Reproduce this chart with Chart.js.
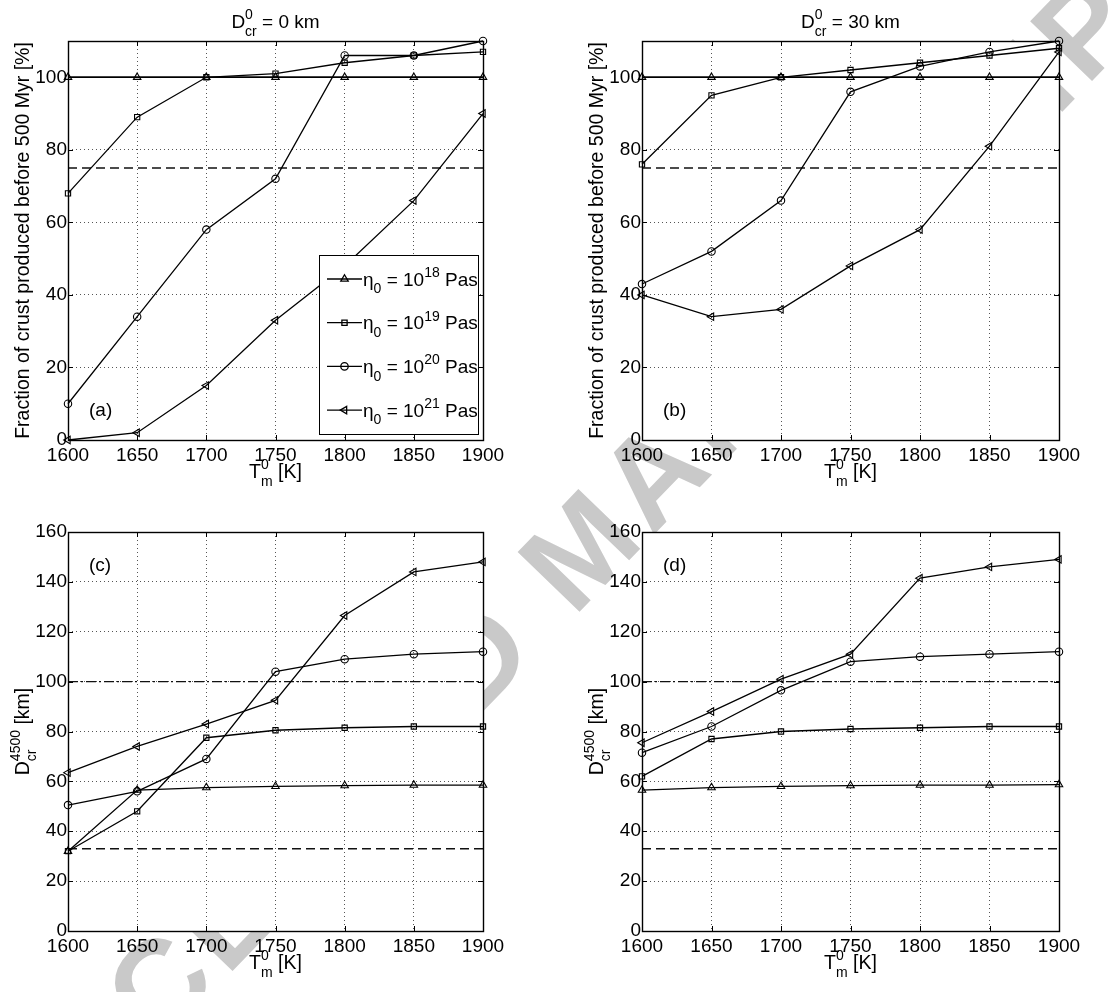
<!DOCTYPE html>
<html>
<head>
<meta charset="utf-8">
<script src="https://cdn.jsdelivr.net/npm/chart.js@4.4.0/dist/chart.umd.min.js"></script>
<style>
  body { margin: 0; background: #fff; }
  #wrap { position: relative; width: 1117px; height: 992px; overflow: hidden; }
  #wrap canvas { position: absolute; }
</style>
</head>
<body>
<div id="wrap">
  <canvas id="mark" width="1117" height="992" style="left:0;top:0"></canvas>
  <canvas id="pa" width="558" height="496" style="left:0;top:0"></canvas>
  <canvas id="pb" width="559" height="496" style="left:558px;top:0"></canvas>
  <canvas id="pc" width="558" height="496" style="left:0;top:496px"></canvas>
  <canvas id="pd" width="559" height="496" style="left:558px;top:496px"></canvas>
</div>
<script>
const temps = [1600, 1650, 1700, 1750, 1800, 1850, 1900]
const xTicks = [1600, 1650, 1700, 1750, 1800, 1850, 1900]
const yTicksFrac = [0, 20, 40, 60, 80, 100]
const yTicksDepth = [0, 20, 40, 60, 80, 100, 120, 140, 160]
const viscosityExp = ['18', '19', '20', '21']

// fraction of crust produced before 500 Myr [%], D0 = 0 km
const fracA18 = [100, 100, 100, 100, 100, 100, 100]
const fracA19 = [68, 89, 100, 101, 104, 106, 107]
const fracA20 = [10, 34, 58, 72, 106, 106, 110]
const fracA21 = [0, 2, 15, 33, 48, 66, 90]

// same, D0 = 30 km
const fracB18 = [100, 100, 100, 100, 100, 100, 100]
const fracB19 = [76, 95, 100, 102, 104, 106, 108]
const fracB20 = [43, 52, 66, 96, 103, 107, 110]
const fracB21 = [40, 34, 36, 48, 58, 81, 107]

// crust thickness at 4500 Myr [km], D0 = 0 km
const depthC18 = [32, 56.5, 57.5, 58, 58.3, 58.5, 58.5]
const depthC19 = [32, 48, 77.5, 80.5, 81.5, 82, 82]
const depthC20 = [50.5, 56, 69, 104, 109, 111, 112]
const depthC21 = [63.5, 74, 83, 92.5, 126.5, 144, 148]

// same, D0 = 30 km
const depthD18 = [56.5, 57.5, 58, 58.3, 58.5, 58.5, 58.7]
const depthD19 = [62, 77, 80, 81, 81.5, 82, 82]
const depthD20 = [71.5, 82, 96.5, 108, 110, 111, 112]
const depthD21 = [75.5, 88, 101, 111, 141.5, 146, 149]

// horizontal reference levels
const fracRefs = [75, 100]
const depthRefs = [33, 100]

const FONT = '"Liberation Sans", Arial, Helvetica, sans-serif'

const markerStyles = [
  { pointStyle: 'triangle', rotation: 0, radius: 4.3 },
  { pointStyle: 'rect', rotation: 0, radius: 3.7 },
  { pointStyle: 'circle', rotation: 0, radius: 3.7 },
  { pointStyle: 'triangle', rotation: -90, radius: 4.3 }
]

// text with MATLAB-like stacked super/subscripts
function drawRich(ctx, parts, x, y, align, size) {
  const small = Math.round(size * 0.72)
  const big = size + 'px ' + FONT
  const sm = small + 'px ' + FONT
  let total = 0
  parts.forEach(p => {
    if (typeof p === 'string') { ctx.font = big; total += ctx.measureText(p).width }
    else {
      ctx.font = sm
      total += Math.max(p.sup ? ctx.measureText(p.sup).width : 0, p.sub ? ctx.measureText(p.sub).width : 0)
    }
  })
  let cx = align === 'center' ? x - total / 2 : x
  ctx.textAlign = 'left'
  ctx.textBaseline = 'alphabetic'
  parts.forEach(p => {
    if (typeof p === 'string') {
      ctx.font = big
      ctx.fillText(p, cx, y)
      cx += ctx.measureText(p).width
    } else {
      ctx.font = sm
      let w = 0
      if (p.sup) { ctx.fillText(p.sup, cx, y - size * 0.45); w = ctx.measureText(p.sup).width }
      if (p.sub) { ctx.fillText(p.sub, cx, y + size * 0.4); w = Math.max(w, ctx.measureText(p.sub).width) }
      cx += w
    }
  })
}

const decor = {
  id: 'decor',
  beforeDraw(chart) {
    const a = chart.chartArea
    const ctx = chart.ctx
    ctx.save()
    ctx.fillStyle = '#fff'
    ctx.fillRect(a.left, a.top, a.right - a.left, a.bottom - a.top)
    ctx.restore()
  },
  afterDraw(chart, args, opts) {
    const a = chart.chartArea
    const ctx = chart.ctx
    const xs = chart.scales.x
    const ys = chart.scales.y
    ctx.save()
    ctx.fillStyle = '#000'
    ctx.strokeStyle = '#000'

    // legend box
    if (opts.legend) {
      const lx = a.left + 251, ly = a.top + 214, lw = 159, lh = 179
      ctx.fillStyle = '#fff'
      ctx.fillRect(lx, ly, lw, lh)
      ctx.lineWidth = 1
      ctx.strokeRect(lx + 0.5, ly + 0.5, lw, lh)
      viscosityExp.forEach((e, i) => {
        const ry = ly + 24 + i * 43.7
        ctx.beginPath()
        ctx.lineWidth = 1.3
        ctx.moveTo(lx + 8, ry)
        ctx.lineTo(lx + 43, ry)
        ctx.stroke()
        ctx.fillStyle = 'rgba(0,0,0,0)'
        Chart.helpers.drawPoint(ctx, Object.assign({ borderWidth: 1 }, markerStyles[i]), lx + 25.5, ry)
        ctx.fillStyle = '#000'
        drawRich(ctx, ['η', { sub: '0' }, ' = 10', { sup: e }, ' Pas'], lx + 44, ry + 6.5, 'left', 19)
      })
    }

    // inward tick marks on all four sides
    ctx.lineWidth = 1
    ctx.beginPath()
    xTicks.forEach(v => {
      const px = Math.round(xs.getPixelForValue(v)) + 0.5
      ctx.moveTo(px, a.bottom); ctx.lineTo(px, a.bottom - 5)
      ctx.moveTo(px, a.top); ctx.lineTo(px, a.top + 5)
    })
    opts.yTicks.forEach(v => {
      const py = Math.round(ys.getPixelForValue(v)) + 0.5
      ctx.moveTo(a.left, py); ctx.lineTo(a.left + 5, py)
      ctx.moveTo(a.right, py); ctx.lineTo(a.right - 5, py)
    })
    ctx.stroke()

    // axes box
    ctx.lineWidth = 1.4
    ctx.strokeRect(Math.round(a.left) + 0.5, Math.round(a.top) + 0.5, Math.round(a.right - a.left), Math.round(a.bottom - a.top))

    ctx.fillStyle = '#000'
    if (opts.title) drawRich(ctx, opts.title, (a.left + a.right) / 2, a.top - 13, 'center', 19)
    drawRich(ctx, ['T', { sup: '0', sub: 'm' }, ' [K]'], (a.left + a.right) / 2, a.bottom + 38, 'center', 19.5)

    ctx.save()
    ctx.translate(a.left - 39.5, (a.top + a.bottom) / 2)
    ctx.rotate(-Math.PI / 2)
    drawRich(ctx, opts.ylabel, 0, 0, 'center', 19.5)
    ctx.restore()

    ctx.font = '19px ' + FONT
    ctx.textAlign = 'left'
    ctx.textBaseline = 'alphabetic'
    const tagY = opts.tagTop ? a.top + 39 : a.bottom - 24
    ctx.fillText(opts.tag, a.left + 21, tagY)
    ctx.restore()
  }
}

function makePanel(id, series, refs, refDash, yTicks, ymax, opts, lay) {
  const datasets = series.map((vals, i) => ({
    data: temps.map((t, j) => ({ x: t, y: vals[j] })),
    borderColor: '#000',
    borderWidth: 1.3,
    pointStyle: markerStyles[i].pointStyle,
    pointRotation: markerStyles[i].rotation,
    pointRadius: markerStyles[i].radius,
    pointBorderWidth: 1.1,
    pointBorderColor: '#000',
    pointBackgroundColor: 'rgba(0,0,0,0)',
    tension: 0,
    clip: false
  }))
  refs.forEach((v, k) => {
    datasets.push({
      data: [{ x: xTicks[0], y: v }, { x: xTicks[xTicks.length - 1], y: v }],
      borderColor: '#111',
      borderWidth: 1.4,
      borderDash: refDash[k],
      pointRadius: 0,
      tension: 0
    })
  })
  const tickFont = { family: FONT, size: 19 }
  return new Chart(document.getElementById(id), {
    type: 'line',
    data: { datasets },
    options: {
      responsive: false,
      animation: false,
      events: [],
      layout: { autoPadding: false, padding: { left: 0, top: lay.top, right: lay.right, bottom: 0 } },
      plugins: { legend: { display: false }, tooltip: { enabled: false }, decor: Object.assign({ yTicks }, opts) },
      scales: {
        x: {
          type: 'linear', min: xTicks[0], max: xTicks[xTicks.length - 1],
          afterBuildTicks: s => { s.ticks = xTicks.map(v => ({ value: v })) },
          afterFit: s => { s.height = lay.xh },
          grid: { color: '#555', lineWidth: 1, drawTicks: false },
          border: { display: false, dash: [1, 3] },
          ticks: { color: '#000', font: tickFont, padding: 4, maxRotation: 0, autoSkip: false, callback: v => String(v) }
        },
        y: {
          type: 'linear', min: 0, max: ymax,
          afterBuildTicks: s => { s.ticks = yTicks.map(v => ({ value: v })) },
          afterFit: s => { s.width = lay.yw },
          grid: { color: '#555', lineWidth: 1, drawTicks: false },
          border: { display: false, dash: [1, 3] },
          ticks: { color: '#000', font: tickFont, padding: 1, autoSkip: false, callback: v => String(v) }
        }
      }
    },
    plugins: [decor]
  })
}

const fracLabel = ['Fraction of crust produced before 500 Myr [%]']
const depthLabel = ['D', { sup: '4500', sub: 'cr' }, ' [km]']

makePanel('pa', [fracA18, fracA19, fracA20, fracA21], fracRefs, [[9, 5], []], yTicksFrac, 110,
  { title: ['D', { sup: '0', sub: 'cr' }, ' = 0 km'], ylabel: fracLabel, tag: '(a)', legend: true },
  { top: 41, right: 75, yw: 68, xh: 56 })
makePanel('pb', [fracB18, fracB19, fracB20, fracB21], fracRefs, [[9, 5], []], yTicksFrac, 110,
  { title: ['D', { sup: '0', sub: 'cr' }, ' = 30 km'], ylabel: fracLabel, tag: '(b)' },
  { top: 41, right: 58, yw: 84, xh: 56 })
makePanel('pc', [depthC18, depthC19, depthC20, depthC21], depthRefs, [[9, 5], [10, 3, 2, 3]], yTicksDepth, 160,
  { ylabel: depthLabel, tag: '(c)', tagTop: true },
  { top: 36, right: 75, yw: 68, xh: 61 })
makePanel('pd', [depthD18, depthD19, depthD20, depthD21], depthRefs, [[9, 5], [10, 3, 2, 3]], yTicksDepth, 160,
  { ylabel: depthLabel, tag: '(d)', tagTop: true },
  { top: 36, right: 58, yw: 84, xh: 61 })

// grey diagonal stamp, sits under the white plot areas
const mk = document.getElementById('mark').getContext('2d')
mk.save()
mk.translate(22, 1189)
mk.rotate(-46 * Math.PI / 180)
mk.font = 'bold 125px ' + FONT
mk.letterSpacing = '8px'
mk.fillStyle = '#c9c9c9'
mk.fillText('ACCEPTED MANUSCRIPT', 0, 0)
mk.restore()
</script>
</body>
</html>
